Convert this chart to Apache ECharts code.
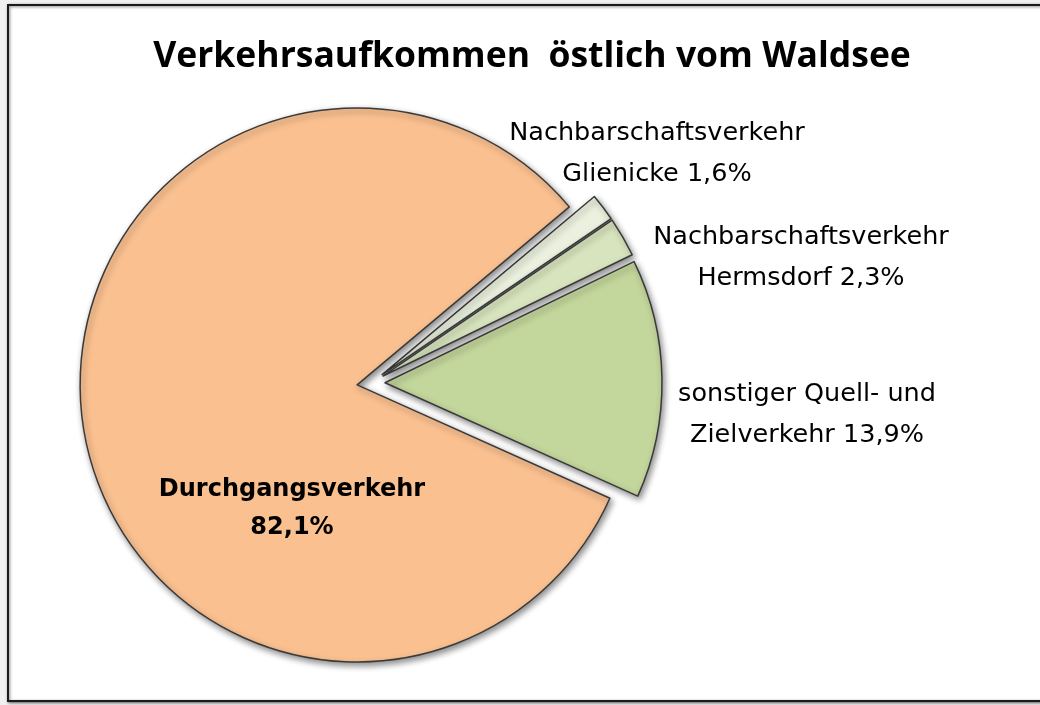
<!DOCTYPE html>
<html>
<head>
<meta charset="utf-8">
<script src="https://cdn.jsdelivr.net/npm/echarts@6/dist/echarts.min.js"></script>
<style>
  html, body { margin: 0; padding: 0; background: #f0f0f0; }
  #chart { width: 1040px; height: 705px; }
</style>
</head>
<body>
<div id="chart"></div>
<script>
// slices in clockwise order, starting at the top of the small ones
const categories = [
  "Nachbarschaftsverkehr\nGlienicke",
  "Nachbarschaftsverkehr\nHermsdorf",
  "sonstiger Quell- und\nZielverkehr",
  "Durchgangsverkehr"
];
const shares = [1.6, 2.3, 13.9, 82.1];

const COLORS = ["#ebf1de", "#d7e4bd", "#c3d69b", "#fac090"];
// where each label block is centred
const LABEL_POS = [[657, 154], [801, 258], [807, 415], [292, 509]];

const chart = echarts.init(document.getElementById("chart"));

const fmt = v => v.toFixed(1).replace(".", ",") + "%";
const labelText = (name, v) => name + (name.includes("\n") ? " " : "\n") + fmt(v);

// slice labels as free text so they sit where the original puts them
const labels = categories.map((name, i) => ({
  type: "text",
  x: LABEL_POS[i][0],
  y: LABEL_POS[i][1],
  silent: true,
  z: 10,
  style: {
    text: labelText(name, shares[i]),
    fill: "#000",
    font: i === 3 ? "bold 24px 'DejaVu Sans'" : "25.5px 'DejaVu Sans'",
    lineHeight: i === 3 ? 38 : 41,
    align: "center",
    verticalAlign: "middle"
  }
}));

chart.setOption({
  animation: false,
  backgroundColor: "#f0f0f0",
  graphic: [{
    type: "rect",
    shape: { x: 8, y: 5, width: 1100, height: 696 },
    style: {
      fill: "#ffffff",
      stroke: "#1a1a1a",
      lineWidth: 2,
      shadowBlur: 3,
      shadowColor: "rgba(0,0,0,0.5)",
      shadowOffsetX: 1,
      shadowOffsetY: 1
    },
    z: -10,
    silent: true
  }].concat(labels),
  title: {
    text: "Verkehrsaufkommen  östlich vom Waldsee",
    left: 527,
    top: 34,
    textAlign: "center",
    textStyle: { fontFamily: "Open Sans", fontWeight: "bold", fontSize: 35.5, color: "#000" }
  },
  series: [{
    type: "pie",
    center: [371, 383],
    radius: [0, 277],
    startAngle: 40,
    clockwise: true,
    selectedMode: "multiple",
    selectedOffset: 14,
    emphasis: { disabled: true },
    itemStyle: {
      borderColor: "#3a3a3a",
      borderWidth: 1.5,
      shadowBlur: 6,
      shadowColor: "rgba(0,0,0,0.45)",
      shadowOffsetX: 2,
      shadowOffsetY: 3
    },
    label: { show: false },
    labelLine: { show: false },
    data: categories.map((name, i) => ({
      name: name,
      value: shares[i],
      selected: true,
      itemStyle: { color: COLORS[i] }
    }))
  }]
});
</script>
</body>
</html>
